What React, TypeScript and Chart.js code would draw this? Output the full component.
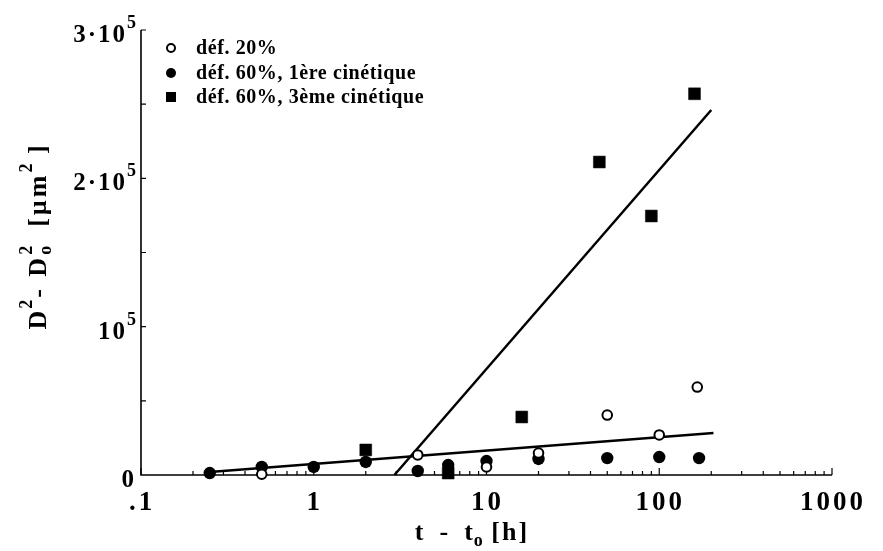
import React, { useEffect, useRef } from 'react';
import { Chart, registerables } from 'chart.js';

Chart.register(...registerables);

// ---- data ----
const def20X = [0.5, 4, 10, 20, 50, 100, 166];
const def20Y = [500, 13500, 5400, 14800, 40400, 27000, 59300];
const def60aX = [0.25, 0.5, 1, 2, 4, 6, 10, 20, 50, 100, 170];
const def60aY = [1300, 5400, 5400, 8800, 2700, 6700, 9400, 10800, 11400, 12100, 11400];
const def60cX = [2, 6, 16, 45, 90, 160];
const def60cY = [16900, 1300, 39100, 211000, 174600, 257000];
const fitLowX = [0.25, 206];
const fitLowY = [2000, 28300];
const fitHighX = [2.93, 200];
const fitHighY = [0, 246100];

const xTickValues = [0.1, 1, 10, 100, 1000];
const xTickLabels = ['.1', '1', '10', '100', '1000'];
const yTickValues = [0, 100000, 200000, 300000];
const yTickMain = ['0', '10', '2·10', '3·10'];
const yTickSup = ['', '5', '5', '5'];
const legendLabels = ['déf. 20%', 'déf. 60%, 1ère cinétique', 'déf. 60%, 3ème cinétique'];

const FAM = "'Liberation Serif', 'Times New Roman', serif";

type Part = { t: string; size: number; dy?: number; ls?: number; noAdv?: boolean };

function setFont(ctx: CanvasRenderingContext2D, p: Part) {
  ctx.font = `bold ${p.size}px ${FAM}`;
  (ctx as any).letterSpacing = `${p.ls ?? 0}px`;
}
function partsWidth(ctx: CanvasRenderingContext2D, parts: Part[]) {
  let w = 0;
  for (const p of parts) {
    setFont(ctx, p);
    if (!p.noAdv) w += ctx.measureText(p.t).width;
  }
  return w;
}
function drawParts(ctx: CanvasRenderingContext2D, parts: Part[], x: number, y: number, align: 'left' | 'center' | 'right') {
  const w = partsWidth(ctx, parts);
  let cx = align === 'center' ? x - w / 2 : align === 'right' ? x - w : x;
  ctx.textAlign = 'left';
  ctx.textBaseline = 'alphabetic';
  for (const p of parts) {
    setFont(ctx, p);
    ctx.fillText(p.t, cx, y + (p.dy ?? 0));
    if (!p.noAdv) cx += ctx.measureText(p.t).width;
  }
  (ctx as any).letterSpacing = '0px';
}

const refPlugin = {
  id: 'refAxes',
  beforeDatasetsDraw(chart: any) {
    const { ctx, chartArea: a, scales } = chart;
    const x = scales.x, y = scales.y;
    ctx.save();
    ctx.strokeStyle = '#000';
    ctx.lineWidth = 1.6;
    ctx.beginPath();
    ctx.moveTo(a.left, a.top);
    ctx.lineTo(a.left, a.bottom);
    ctx.lineTo(a.right, a.bottom);
    ctx.stroke();
    ctx.lineWidth = 1.2;
    ctx.beginPath();
    for (let d = -1; d < 3; d++) {
      for (let m = 1; m <= 9; m++) {
        const v = m * Math.pow(10, d);
        const px = x.getPixelForValue(v);
        const len = m === 1 ? 7 : 4;
        ctx.moveTo(px, a.bottom);
        ctx.lineTo(px, a.bottom - len);
      }
    }
    const pEnd = x.getPixelForValue(1000);
    ctx.moveTo(pEnd, a.bottom);
    ctx.lineTo(pEnd, a.bottom - 7);
    for (let v = 50000; v <= 300000; v += 50000) {
      const py = y.getPixelForValue(v);
      ctx.moveTo(a.left, py);
      ctx.lineTo(a.left + 5, py);
    }
    ctx.stroke();
    ctx.restore();
  },
  afterDraw(chart: any) {
    const { ctx, chartArea: a, scales } = chart;
    const x = scales.x, y = scales.y;
    ctx.save();
    ctx.fillStyle = '#000';
    // x tick labels
    xTickValues.forEach((v, i) => {
      const px = x.getPixelForValue(v);
      drawParts(ctx, [{ t: xTickLabels[i], size: 27, ls: 3 }], px + 1, a.bottom + 35, 'center');
    });
    // y tick labels
    yTickValues.forEach((v, i) => {
      const py = y.getPixelForValue(v);
      const parts: Part[] = [{ t: yTickMain[i], size: 25, ls: 2 }];
      if (yTickSup[i]) parts.push({ t: yTickSup[i], size: 18, dy: -14 });
      drawParts(ctx, parts, a.left - 5, py + 12, 'right');
    });
    // x title
    drawParts(
      ctx,
      [
        { t: 't  -  t', size: 26, ls: 1 },
        { t: 'o', size: 18, dy: 6 },
        { t: ' [h]', size: 26, ls: 2 },
      ],
      472,
      a.bottom + 65,
      'center'
    );
    // y title (rotated)
    ctx.save();
    ctx.translate(46, 236);
    ctx.rotate(-Math.PI / 2);
    drawParts(
      ctx,
      [
        { t: 'D', size: 26, ls: 2 },
        { t: '2', size: 18, dy: -14, ls: 2 },
        { t: '- D', size: 26, ls: 3 },
        { t: 'o', size: 18, dy: 5, noAdv: true },
        { t: '2', size: 18, dy: -14 },
        { t: '  [µm', size: 26, ls: 3 },
        { t: '2', size: 18, dy: -14 },
        { t: ' ]', size: 26, ls: 3 },
      ],
      0,
      0,
      'center'
    );
    ctx.restore();
    // legend
    const mx = 171;
    const rows = [48, 73, 97];
    rows.forEach((ry, i) => {
      ctx.strokeStyle = '#000';
      ctx.fillStyle = '#000';
      ctx.lineWidth = 2;
      if (i === 0) {
        ctx.beginPath();
        ctx.arc(mx, ry, 4, 0, Math.PI * 2);
        ctx.fillStyle = '#fff';
        ctx.fill();
        ctx.stroke();
        ctx.fillStyle = '#000';
      } else if (i === 1) {
        ctx.beginPath();
        ctx.arc(mx, ry, 5, 0, Math.PI * 2);
        ctx.fill();
      } else {
        ctx.fillRect(mx - 5, ry - 5, 10, 10);
      }
      drawParts(ctx, [{ t: legendLabels[i], size: 20, ls: 0.6 }], 196, ry + 6, 'left');
    });
    ctx.restore();
  },
};

const toPts = (xs: number[], ys: number[]) => xs.map((v, i) => ({ x: v, y: ys[i] }));

export default function App() {
  const ref = useRef<HTMLCanvasElement | null>(null);
  useEffect(() => {
    if (!ref.current) return;
    const chart = new Chart(ref.current, {
      type: 'scatter',
      data: {
        datasets: [
          {
            label: legendLabels[0],
            data: toPts(def20X, def20Y),
            pointStyle: 'circle',
            pointRadius: 4.8,
            pointBackgroundColor: '#fff',
            pointBorderColor: '#000',
            pointBorderWidth: 2,
            clip: false,
            order: 0,
          },
          {
            label: legendLabels[1],
            data: toPts(def60aX, def60aY),
            pointStyle: 'circle',
            pointRadius: 6.2,
            pointBackgroundColor: '#000',
            pointBorderColor: '#000',
            pointBorderWidth: 0,
            clip: false,
            order: 1,
          },
          {
            label: legendLabels[2],
            data: toPts(def60cX, def60cY),
            pointStyle: 'rect',
            pointRadius: 8.4,
            pointBackgroundColor: '#000',
            pointBorderColor: '#000',
            pointBorderWidth: 0.5,
            clip: false,
            order: 2,
          },
          {
            label: 'fit1',
            data: toPts(fitLowX, fitLowY),
            showLine: true,
            borderColor: '#000',
            borderWidth: 2.5,
            pointRadius: 0,
            clip: false,
            order: 10,
          },
          {
            label: 'fit2',
            data: toPts(fitHighX, fitHighY),
            showLine: true,
            borderColor: '#000',
            borderWidth: 2.5,
            pointRadius: 0,
            clip: false,
            order: 11,
          },
        ],
      } as any,
      options: {
        responsive: false,
        animation: false,
        events: [],
        layout: { padding: { left: 141, right: 51, top: 30, bottom: 76 } },
        plugins: { legend: { display: false }, tooltip: { enabled: false } },
        scales: {
          x: { type: 'logarithmic', min: 0.1, max: 1000, display: false },
          y: { type: 'linear', min: 0, max: 300000, display: false },
        },
      },
      plugins: [refPlugin],
    });
    return () => chart.destroy();
  }, []);
  return (
    <div style={{ position: 'fixed', left: 0, top: 0, width: 883, height: 551, background: '#fff' }}>
      <canvas ref={ref} width={883} height={551} style={{ display: 'block' }} />
    </div>
  );
}
